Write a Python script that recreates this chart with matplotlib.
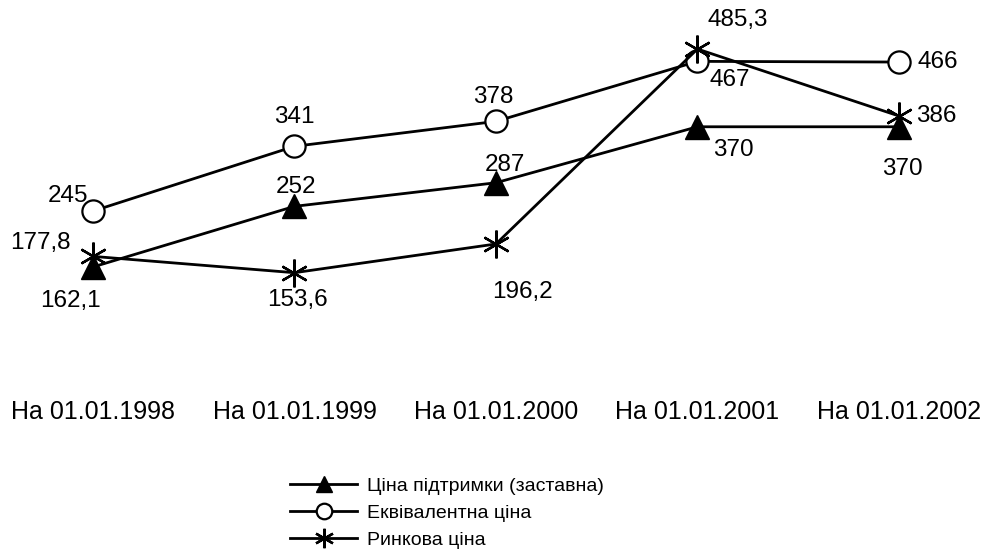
import matplotlib
matplotlib.use("Agg")
import matplotlib.pyplot as plt

categories = ["На 01.01.1998", "На 01.01.1999", "На 01.01.2000", "На 01.01.2001", "На 01.01.2002"]
support = [162.1, 252, 287, 370, 370]
equivalent = [245, 341, 378, 467, 466]
market = [177.8, 153.6, 196.2, 485.3, 386]
support_lbl = ["162,1", "252", "287", "370", "370"]
equivalent_lbl = ["245", "341", "378", "467", "466"]
market_lbl = ["177,8", "153,6", "196,2", "485,3", "386"]

plt.rcParams['font.family'] = ['Liberation Sans', 'DejaVu Sans']

fig = plt.figure(figsize=(9.9, 5.57), dpi=100)
ax = fig.add_axes([0, 0, 1, 1])
ax.set_xlim(-0.4615, 4.452)
ax.set_ylim(-268, 558)
ax.axis('off')

x = list(range(len(categories)))
ax.plot(x, support, color='black', lw=2, marker='^', ms=17, mfc='black', mec='black',
        label='Ціна підтримки (заставна)', zorder=3)
ax.plot(x, equivalent, color='black', lw=2, marker='o', ms=16, mfc='white', mec='black', mew=1.6,
        label='Еквівалентна ціна', zorder=2)
ax.plot(x, market, color='black', lw=2, marker=(6, 2, 0), ms=20, mec='black', mew=1.7,
        label='Ринкова ціна', zorder=4)

fs = 17.5
off_sup = [(-23, -34), (2, 19), (9, 18), (36, -23), (3, -42)]
off_eq = [(-25, 15), (0, 29), (-3, 24), (32, -19), (39, 0)]
off_mk = [(-53, 13), (3, -27), (26, -48), (40, 29), (37, 0)]
for vals, lbls, offs in [(support, support_lbl, off_sup), (equivalent, equivalent_lbl, off_eq),
                         (market, market_lbl, off_mk)]:
    for i, (v, l, o) in enumerate(zip(vals, lbls, offs)):
        ax.annotate(l, (i, v), xytext=(o[0] * 0.72, o[1] * 0.72), textcoords='offset points',
                    ha='center', va='center', fontsize=fs, zorder=5)

for i, c in enumerate(categories):
    ax.text(i, -53, c, ha='center', va='center', fontsize=18)

leg = ax.legend(loc='upper left', bbox_to_anchor=(290 / 990, 1 - 477 / 557), frameon=False,
                fontsize=14, handlelength=3.45, labelspacing=0.5, handletextpad=0.5,
                markerscale=0.7, borderaxespad=0, borderpad=0)

fig.savefig('out.png', dpi=100)
